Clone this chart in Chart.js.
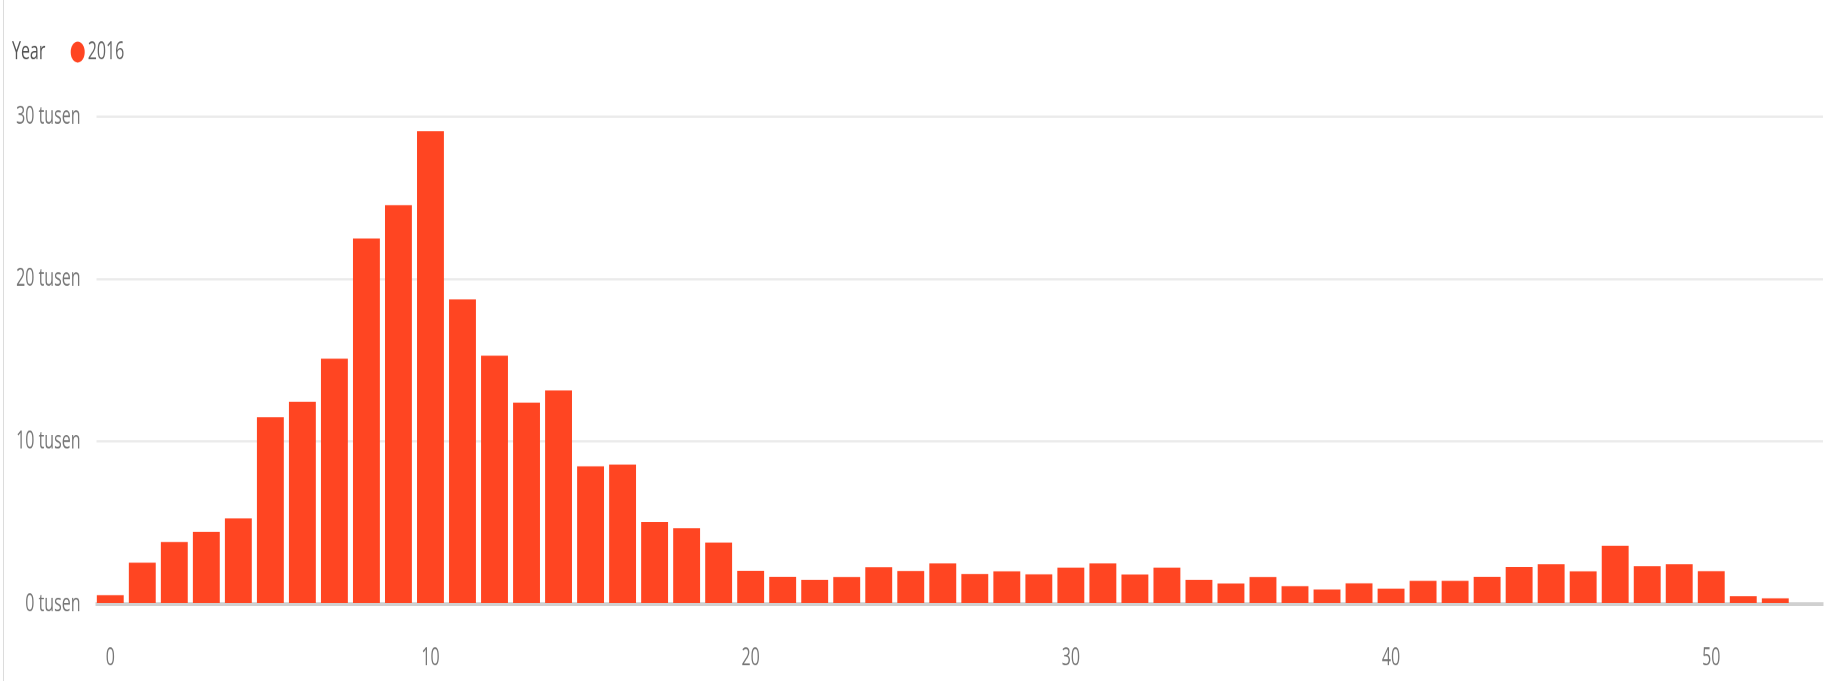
<!DOCTYPE html>
<html>
<head>
<meta charset="utf-8">
<script src="https://cdn.jsdelivr.net/npm/chart.js@4.4.1/dist/chart.umd.min.js"></script>
<style>
  html, body { margin: 0; padding: 0; background: #ffffff; }
  #wrap { position: relative; width: 1829px; height: 681px; overflow: hidden; }
  #edge { position: absolute; left: 3px; top: 0; width: 1px; height: 681px; background: #dcdcdc; }
</style>
</head>
<body>
<div id="wrap">
  <div id="edge"></div>
  <!-- drawn at 1829x454 and shown stretched to 1829x681, like the reference -->
  <canvas id="chart" width="1829" height="454" style="width:1829px;height:681px;display:block"></canvas>
</div>
<script>
// ---- data ----
const weeks = [0,1,2,3,4,5,6,7,8,9,10,11,12,13,14,15,16,17,18,19,20,21,22,23,24,25,26,27,28,29,30,31,32,33,34,35,36,37,38,39,40,41,42,43,44,45,46,47,48,49,50,51,52];
const values2016 = [550,2550,3820,4450,5270,11500,12450,15100,22500,24550,29100,18750,15280,12400,13150,8480,8580,5050,4670,3780,2050,1680,1500,1670,2270,2040,2500,1850,2020,1830,2240,2500,1820,2250,1500,1270,1670,1100,900,1280,950,1430,1430,1680,2280,2450,2020,3580,2330,2450,2030,480,350];
const seriesName = '2016';
const legendTitle = 'Year';
const xTickValues = [0,10,20,30,40,50];
const yTickValues = [0,10000,20000,30000];
const tickSuffix = ' tusen';

const FONT = "'Open Sans', 'Noto Sans', sans-serif";
const BAR_COLOR = '#FF4522';

const legendYearPlugin = {
  id: 'legendYear',
  afterLayout(chart) {
    chart.legend.left = 49;
  },
  afterDraw(chart) {
    const ctx = chart.ctx;
    ctx.save();
    ctx.font = "16px " + FONT;
    ctx.fillStyle = '#555555';
    ctx.textBaseline = 'middle';
    ctx.textAlign = 'left';
    ctx.fillText(legendTitle, 12, 34.7);
    ctx.restore();
  }
};

new Chart(document.getElementById('chart'), {
  type: 'bar',
  data: {
    labels: weeks,
    datasets: [{
      label: seriesName,
      data: values2016,
      backgroundColor: BAR_COLOR,
      borderWidth: 0,
      barPercentage: 0.84,
      categoryPercentage: 1.0
    }]
  },
  plugins: [legendYearPlugin],
  options: {
    responsive: false,
    devicePixelRatio: 2,
    animation: false,
    layout: { padding: { left: 0, right: 6, top: 0, bottom: 0 } },
    plugins: {
      tooltip: { enabled: false },
      legend: {
        display: true,
        position: 'top',
        align: 'start',
        labels: {
          usePointStyle: true,
          pointStyle: 'circle',
          boxWidth: 4,
          boxHeight: 9.9,
          padding: 26.7,
          color: '#666666',
          font: { family: FONT, size: 16 }
        }
      }
    },
    scales: {
      x: {
        type: 'linear',
        min: -0.43,
        max: 53.49,
        offset: false,
        afterBuildTicks(scale) { scale.ticks = xTickValues.map(v => ({ value: v })); },
        afterFit(scale) { scale.height = 51.3; },
        grid: { display: false, drawTicks: false },
        border: { display: true, color: '#d0d0d0', width: 2.5 },
        ticks: {
          padding: 26.4,
          color: '#777777',
          font: { family: FONT, size: 16 },
          maxRotation: 0,
          callback: (v) => String(v)
        }
      },
      y: {
        min: 0,
        max: 32310,
        afterBuildTicks(scale) { scale.ticks = yTickValues.map(v => ({ value: v })); },
        afterFit(scale) { scale.width = 96.5; },
        grid: { color: '#ebebeb', lineWidth: 1.5, drawTicks: false },
        border: { display: false },
        ticks: {
          padding: 16,
          color: '#777777',
          font: { family: FONT, size: 16 },
          callback: (v) => (v / 1000) + tickSuffix
        }
      }
    }
  }
});
</script>
</body>
</html>
